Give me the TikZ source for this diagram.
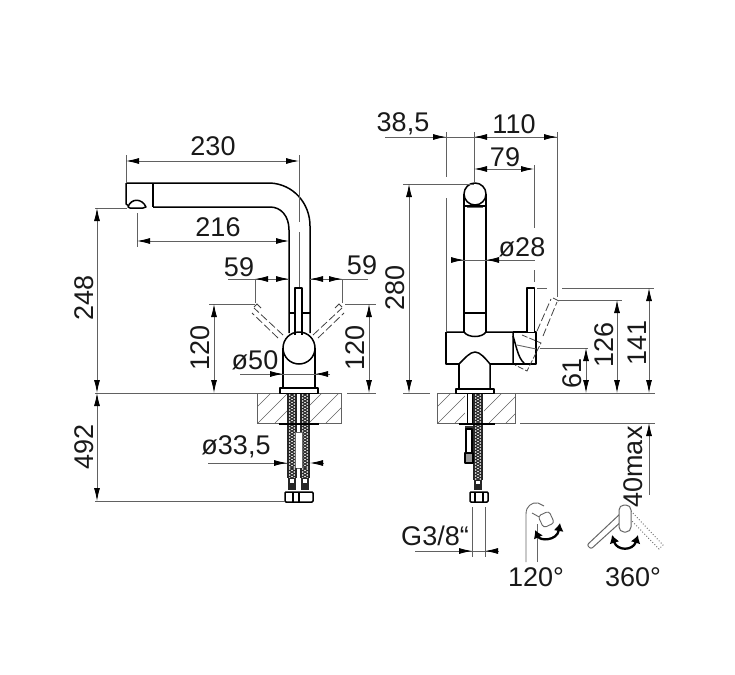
\documentclass[tikz,border=0pt]{standalone}
\usepackage{fontspec}
\usepackage{tikz}
\usetikzlibrary{arrows.meta}
\setmainfont{Liberation Sans}

\tikzset{
	dimline/.style={draw=black!62,line width=0.8pt},
	both/.style={dimline,{Latex[length=13pt,width=6pt,black]}-{Latex[length=13pt,width=6pt,black]}},
	tip/.style={dimline,-{Latex[length=13pt,width=6pt,black]}},
	tap/.style={draw=black,line width=1.5pt,line join=round},
	thin tap/.style={draw=black!60,line width=0.9pt},
	swing/.style={draw=black!75,line width=0.8pt,dash pattern=on 8pt off 3pt},
	turn/.style={draw=black,line width=2.3pt,{Latex[length=8pt,width=10pt]}-{Latex[length=8pt,width=10pt]}},
	size/.style={font=\fontsize{27}{27}\selectfont,text=black!90,inner sep=0pt},
	upsize/.style={size,rotate=90}
}

% hatched worktop, white where the hoses go through
\newcommand{\worktop}[4]{
	\begin{scope}
		\clip (#1,393) rectangle (#2,423);
		\foreach \hx in {-16,1,...,70}
			\draw [dimline,line width=0.6pt] (#1+\hx,423) -- (#1+\hx+30,393);
	\end{scope}
	\fill [white] (#3,393) rectangle (#4,423);
	\draw [dimline] (#1,393) rectangle (#2,423);
}
% braided hose
\newcommand{\braid}[3]{
	\fill [black!85] (#1-5,#2) rectangle (#1+5,#3);
	\pgfmathsetmacro{\hlast}{#3-1}
	\pgfmathsetmacro{\hnext}{#2+3}
	\foreach \hy in {#2,\hnext,...,\hlast} {
		\fill [white] (#1-2.2,\hy+1) circle (0.9);
		\fill [white] (#1+2.2,\hy+1) circle (0.9);
		\fill [white] (#1,\hy+2.5) circle (0.9);
	}
}

\begin{document}
\begin{tikzpicture}[x=1pt,y=-1pt]
	\useasboundingbox (0,0) rectangle (735,674);

	% ---- side view ----
	\worktop{257}{341}{287}{310}
	\draw [tap] (126,183) -- (270,183) .. controls (293,184) and (310,203) .. (310,226) -- (310,333);
	\draw [tap] (153,207) -- (270,207) .. controls (281,207) and (289,216) .. (289,230) -- (289,333);
	\draw [tap] (126,183) -- (126,204) -- (129,206);
	\draw [tap,line width=2pt] (153,183) -- (153,207);
	\draw [tap,fill=white] (128,207) .. controls (131,198) and (142,198) .. (146,207) -- (143,208) -- (130,208) -- cycle;
	\draw [tap] (289,313) -- (295,313) (302,313) -- (310,313);
	\draw [tap,fill=white] (295,335) -- (295,288) -- (302,288) -- (302,335);
	\draw [tap] (283,348) -- (283,388) (315,348) -- (315,388);
	\draw [tap] (299,348) circle (16);
	\draw [tap,fill=white] (280,388) rectangle (318,393.5);
	\draw [swing] (283,335) -- (254,308) (278,338) -- (252,313);
	\draw [swing] (313,335) -- (342,308) (318,338) -- (344,313);
	\draw [black!75,line width=0.8pt] (254,307) -- (257,304) -- (261,308) (342,307) -- (339,304) -- (335,308);
	\foreach \hx in {292,305}
		\braid{\hx}{394}{468}
	\draw [tap,line width=2.4pt] (279,424) -- (319,424);
	\fill [white] (295,432) rectangle (302,468);
	\draw [thin tap] (295,432) rectangle (302,468);
	\foreach \hx in {292,305} {
		\braid{\hx}{468}{478}
		\fill [black!85] (\hx-4,478) rectangle (\hx+4,490);
		\fill [white] (\hx-2,479) rectangle (\hx+2,483);
	}
	\draw [tap,fill=white,rounded corners=1pt] (285,492) rectangle (313,502);
	\draw [tap] (293,492) -- (293,502) (299,492) -- (299,502);

	\draw [dimline] (126,155) -- (126,183);
	\draw [dimline] (299,155) -- (299,222) (299,232) -- (299,287);
	\draw [both] (126,161) -- (299,161);
	\draw [dimline] (95,208) -- (127,208);
	\draw [both] (97,208) -- (97,393);
	\draw [dimline] (137,213) -- (137,247);
	\draw [both] (137,241) -- (289,241);
	\draw [dimline] (228,279) -- (289,279) (310,279) -- (368,279);
	\draw [dimline] (255,279) -- (255,303) (342,279) -- (342,303);
	\draw [tip] (272,279) -- (255,279);
	\draw [tip] (275,279) -- (289,279);
	\draw [tip] (325,279) -- (310,279);
	\draw [tip] (325,279) -- (342,279);
	\draw [dimline] (209,304) -- (255,304) (345,304) -- (376,304);
	\draw [both] (214,304) -- (214,393);
	\draw [both] (369,304) -- (369,393);
	\draw [dimline] (240,374) -- (318,374);
	\draw [tip] (268,374) -- (283,374);
	\draw [tip] (330,374) -- (315,374);
	\draw [dimline] (95,393.5) -- (257,393.5) (347,393.5) -- (376,393.5);
	\draw [dimline] (208,463) -- (287,463);
	\draw [tip] (272,463) -- (287,463);
	\draw [tip] (324,463) -- (310,463);
	\draw [both] (97,393) -- (97,501);
	\draw [dimline] (95,501) -- (285,501);

	\node [size] (width230) at (213,146) {230};
	\node [size] (reach216) at (218,227) {216};
	\node [size] (swingL) at (239,267) {59};
	\node [size] (swingR) at (362,265) {59};
	\node [size] (baseD) at (255,360) {ø50};
	\node [size] (hoseD) at (236,447) {ø33,5};
	\node [upsize] (height248) at (84,298) {248};
	\node [upsize] (height492) at (84,447) {492};
	\node [upsize] (leverL) at (200,348) {120};
	\node [upsize] (leverR) at (355,348) {120};

	% ---- front view ----
	\worktop{437}{515}{465}{484}
	\draw [tap] (464,194) -- (464,332) (486,194) -- (486,332);
	\draw [tap] (475,194) circle (11);
	\draw [tap] (464,206) -- (486,206);
	\draw [thin tap] (467,207) -- (483,207);
	\draw [tap] (464,313) -- (486,313);
	\draw [tap] (446,332) -- (464,332) .. controls (468,338) and (482,338) .. (486,332) -- (513,332) -- (513,364);
	\draw [tap] (446,332) -- (446,364) -- (459,364) -- (459,389);
	\draw [tap] (459,364) .. controls (465,358) and (470,352) .. (475,352) .. controls (480,352) and (485,358) .. (490,364) -- (490,389);
	\draw [tap] (490,364) -- (513,364);
	\draw [tap,fill=white] (456,389) rectangle (494,393.5);
	\draw [tap] (513,332) -- (536,332) -- (536,364) -- (513,364);
	\draw [tap,fill=white] (527,332) -- (527,288) -- (534.5,288) -- (534.5,332);
	\draw [tap] (513,336) .. controls (516,345) and (518,358) .. (524,363);
	\draw [thin tap] (517,345) -- (536,349);
	\draw [swing] (537,331) -- (551,299) (543,336) -- (557,302);
	\draw [black!75,line width=0.8pt] (553,298) -- (559,301);
	\draw [swing,dash pattern=on 6pt off 2pt] (522,335) -- (541,343) -- (527,371) -- (515,365);
	\draw [tap,line width=1pt] (467,394) -- (467,423) (472,394) -- (472,423);
	\braid{478}{394}{480}
	\draw [tap,line width=2.4pt] (459,424) -- (495,424);
	\fill [black!80] (465,426) rectangle (473,429);
	\draw [tap,fill=white] (466,429) rectangle (472,453);
	\draw [tap,fill=black!40] (465,453) rectangle (473,463);
	\fill [black!85] (474,480) rectangle (482,490);
	\fill [white] (476,481) rectangle (480,484);
	\draw [tap,fill=white,rounded corners=1pt] (470,492) rectangle (488,502);
	\draw [tap] (475,492) -- (475,502) (483,492) -- (483,502);

	\draw [dimline] (385,137) -- (557,137);
	\draw [tip] (430,137) -- (446,137);
	\draw [tip] (489,137) -- (474,137);
	\draw [tip] (542,137) -- (557,137);
	\draw [dimline] (446,132) -- (446,177) (446,198) -- (446,332);
	\draw [dimline] (474,132) -- (474,183);
	\draw [dimline] (557,132) -- (557,297);
	\draw [both] (474,169) -- (534,169);
	\draw [dimline] (534,165) -- (534,228) (534,270) -- (534,282);
	\draw [dimline] (451,260) -- (535,260);
	\draw [tip] (451,260) -- (464,260);
	\draw [tip] (499,260) -- (486,260);
	\draw [dimline] (403,184) -- (474,184);
	\draw [both] (409,184) -- (409,393);
	\draw [dimline] (403,393.5) -- (430,393.5) (515,393.5) -- (655,393.5);
	\draw [dimline] (520,423) -- (655,423);
	\draw [dimline] (540,348) -- (588,348);
	\draw [both] (586,348) -- (586,393);
	\draw [dimline] (557,300) -- (622,300);
	\draw [both] (617,300) -- (617,393);
	\draw [dimline] (537,288) -- (547,288) (562,288) -- (654,288);
	\draw [both] (649,288) -- (649,393);
	\draw [tip] (649,495) -- (649,423);
	\draw [dimline] (472,507) -- (472,557) (485,507) -- (485,557);
	\draw [dimline] (415,551) -- (498,551);
	\draw [tip] (457,551) -- (472,551);
	\draw [tip] (498,551) -- (485,551);

	\node [size] (offset385) at (403,124) {38,5};
	\node [size] (reach110) at (514,124) {110};
	\node [size] (lever79) at (505,157) {79};
	\node [size] (columnD) at (522,247) {ø28};
	\node [size] (thread) at (435,536) {G3/8“};
	\node [upsize] (height280) at (395,288) {280};
	\node [upsize] (height61) at (572,373) {61};
	\node [upsize] (height126) at (604,345) {126};
	\node [upsize] (height141) at (637,343) {141};
	\node [upsize] (worktopmax) at (633,467) {40max};

	% ---- turning angles ----
	\draw [thin tap] (526,562) -- (526,514) .. controls (526,506) and (532,502) .. (538,503) -- (544,506);
	\draw [thin tap] (537,562) -- (537,524);
	\draw [thin tap] (532,513) -- (541,518);
	\draw [thin tap,fill=white,rotate around={25:(546,519)},rounded corners=3pt] (540,513) rectangle (552,526);
	\draw [turn] (535,530) .. controls (540,541) and (557,541) .. (560,523);
	\node [size] (angle120) at (536,577) {120°};

	\draw [thin tap,line width=1pt,rounded corners=2pt] (621,513) -- (587,545) -- (591,549) -- (623,520);
	\draw [thin tap,dotted] (631,511) -- (663,545) -- (659,549) -- (630,519);
	\draw [thin tap,line width=1pt,fill=white,rounded corners=5pt] (619,532) rectangle (631,505);
	\draw [turn] (612,535) .. controls (617,551) and (633,551) .. (638,535);
	\node [size] (angle360) at (633,577) {360°};
\end{tikzpicture}
\end{document}
